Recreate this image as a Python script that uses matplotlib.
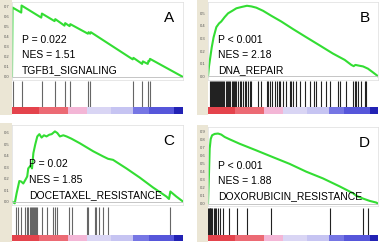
import numpy as np
import matplotlib
matplotlib.use('Agg')
import matplotlib.pyplot as plt
from matplotlib.patches import Rectangle

plt.rcParams['font.family'] = ['Liberation Sans', 'DejaVu Sans']

# ---- panel data ----
labels = ['A', 'B', 'C', 'D']
pvals = ['P = 0.022', 'P < 0.001', 'P = 0.02', 'P < 0.001']
nes = ['NES = 1.51', 'NES = 2.18', 'NES = 1.85', 'NES = 1.88']
sets = ['TGFB1_SIGNALING', 'DNA_REPAIR', 'DOCETAXEL_RESISTANCE', 'DOXORUBICIN_RESISTANCE']

a_x = [0, 0.003, 0.054, 0.056, 0.171, 0.175, 0.249, 0.253, 0.307, 0.311, 0.337, 0.341,
       0.444, 0.448, 0.457, 0.461, 0.706, 0.710, 0.761, 0.765, 0.794, 0.798, 0.803, 0.807, 1.0]
a_es = [0.0, 0.69, 0.64, 0.71, 0.59, 0.63, 0.555, 0.575, 0.51, 0.535, 0.505, 0.525,
        0.43, 0.445, 0.43, 0.445, 0.175, 0.19, 0.13, 0.155, 0.13, 0.16, 0.155, 0.18, 0.0]
a_hits = [0.008, 0.056, 0.173, 0.251, 0.309, 0.339, 0.446, 0.459, 0.708, 0.763, 0.796, 0.805]

b_x = [0, 0.006, 0.014, 0.022, 0.033, 0.049, 0.065, 0.078, 0.098, 0.118, 0.143, 0.167, 0.196,
       0.229, 0.255, 0.284, 0.324, 0.373, 0.431, 0.5, 0.578, 0.657, 0.735, 0.804, 0.843, 0.857,
       0.867, 0.892, 0.912, 0.941, 0.971, 1.0]
b_es = [0, 0.08, 0.155, 0.23, 0.31, 0.39, 0.42, 0.435, 0.47, 0.5, 0.52, 0.54, 0.55, 0.56,
        0.555, 0.545, 0.52, 0.48, 0.435, 0.375, 0.31, 0.245, 0.18, 0.13, 0.09, 0.08, 0.09,
        0.083, 0.078, 0.06, 0.03, 0.0]
b_hits = [0.010, 0.016, 0.022, 0.029, 0.033, 0.039, 0.045, 0.053, 0.059, 0.065, 0.073, 0.078,
          0.084, 0.088, 0.096, 0.104, 0.112, 0.120, 0.124, 0.131, 0.139, 0.147, 0.155, 0.161,
          0.167, 0.176, 0.186, 0.196, 0.206, 0.216, 0.225, 0.235, 0.245, 0.255, 0.294, 0.314,
          0.347, 0.355, 0.363, 0.378, 0.392, 0.406, 0.418, 0.425, 0.441, 0.461, 0.480, 0.490,
          0.500, 0.516, 0.539, 0.569, 0.598, 0.622, 0.637, 0.667, 0.696, 0.716, 0.765, 0.775,
          0.810, 0.853, 0.863, 0.873, 0.882, 0.902, 0.922, 0.931]

c_x = [0, 0.016, 0.027, 0.043, 0.054, 0.066, 0.082, 0.089, 0.095, 0.109, 0.117, 0.125, 0.136,
       0.148, 0.160, 0.173, 0.187, 0.202, 0.218, 0.232, 0.251, 0.265, 0.280, 0.300, 0.319,
       0.348, 0.397, 0.475, 0.533, 0.562, 0.591, 0.669, 0.747, 0.825, 0.903, 0.918, 0.926,
       0.961, 1.0]
c_es = [0, -0.015, 0.073, 0.18, 0.175, 0.158, 0.2, 0.22, 0.29, 0.315, 0.29, 0.424, 0.5, 0.57,
        0.59, 0.56, 0.58, 0.57, 0.585, 0.59, 0.614, 0.6, 0.57, 0.58, 0.57, 0.55, 0.51, 0.44,
        0.395, 0.374, 0.365, 0.29, 0.21, 0.123, 0.044, 0.023, 0.088, 0.044, 0.0]
c_hits = [0.023, 0.037, 0.051, 0.076, 0.086, 0.095, 0.105, 0.111, 0.117, 0.125, 0.130, 0.136,
          0.140, 0.148, 0.177, 0.202, 0.237, 0.251, 0.261, 0.335, 0.348, 0.436, 0.446, 0.484,
          0.494, 0.510, 0.533, 0.562, 0.922]

d_x = [0, 0.006, 0.010, 0.016, 0.024, 0.039, 0.059, 0.078, 0.098, 0.127, 0.186, 0.284, 0.382,
       0.480, 0.578, 0.676, 0.775, 0.853, 0.873, 0.912, 0.951, 0.990, 1.0]
d_es = [0, 0.39, 0.69, 0.81, 0.856, 0.873, 0.878, 0.865, 0.835, 0.806, 0.75, 0.667, 0.582,
        0.498, 0.40, 0.316, 0.215, 0.13, 0.097, 0.063, 0.034, 0.013, 0.0]
d_hits = [0.002, 0.006, 0.010, 0.014, 0.018, 0.022, 0.033, 0.041, 0.049, 0.057, 0.069, 0.088,
          0.124, 0.173, 0.229, 0.373, 0.716, 0.912, 0.941]

curves_x = [a_x, b_x, c_x, d_x]
curves_y = [a_es, b_es, c_es, d_es]
hits = [a_hits, b_hits, c_hits, d_hits]
yticks = [np.arange(0, 0.71, 0.1), np.arange(0, 0.51, 0.1),
          np.arange(0, 0.61, 0.1), np.arange(0, 0.91, 0.1)]
ylims = [(-0.03, 0.745), (-0.03, 0.59), (-0.03, 0.67), (-0.03, 0.96)]

# ranked list colour bar (red -> blue)
bar_edges = [0, 0.16, 0.33, 0.44, 0.58, 0.71, 0.80, 0.95, 1.0]
bar_cols = ['#e4434c', '#ec6a74', '#f3b6d6', '#d9d5f4', '#c6c4f2', '#7676e4', '#5656da', '#2222b4']

W, H = 381, 244
fig = plt.figure(figsize=(W / 100, H / 100), dpi=100)
fig.patch.set_facecolor('white')


def box(x0, y0, x1, y1):
    return [x0 / W, 1 - y1 / H, (x1 - x0) / W, (y1 - y0) / H]


# pixel layout of each panel
lay = [
    dict(s=0, l=12, r=183, top=2, bot=80, h0=81, h1=107, c1=114),
    dict(s=197, l=208, r=378, top=2, bot=80, h0=81, h1=107, c1=114),
    dict(s=0, l=12, r=183, top=125, bot=205, h0=207, h1=235, c1=241),
    dict(s=197, l=208, r=378, top=127, bot=206, h0=208, h1=235, c1=241),
]

for i in range(4):
    L = lay[i]
    # beige strip on the left (drawn under the axes)
    fig.patches.append(Rectangle((L['s'] / W, 1 - (L['c1'] + 1) / H), (L['l'] - L['s']) / W,
                                 (L['c1'] + 3 - L['top']) / H, transform=fig.transFigure,
                                 facecolor='#ebe6d5', edgecolor='none', zorder=-5))

    ax = fig.add_axes(box(L['l'], L['top'], L['r'], L['bot']))
    ax.plot(curves_x[i], curves_y[i], color='#33dd33', lw=1.5)
    ax.axhline(0, color='#bbbbbb', lw=0.6)
    ax.set_xlim(0, 1)
    ax.set_ylim(*ylims[i])
    ax.set_xticks([])
    ax.set_yticks(yticks[i])
    ax.set_yticklabels(['%.1f' % v for v in yticks[i]], fontsize=3, color='#555555')
    ax.tick_params(axis='y', length=0, pad=2)
    for sp in ax.spines.values():
        sp.set_color('#dddddd')
        sp.set_linewidth(0.5)
    tx = 0.1 if i == 2 else 0.06
    ax.text(tx, 0.47, pvals[i], transform=ax.transAxes, fontsize=7.5)
    ax.text(tx, 0.28, nes[i], transform=ax.transAxes, fontsize=7.5)
    ax.text(tx, 0.09, sets[i], transform=ax.transAxes, fontsize=7.5)
    ax.text(0.95, 0.8, labels[i], transform=ax.transAxes, fontsize=11, ha='right', va='center')

    # hit lines
    hx = fig.add_axes(box(L['l'], L['h0'], L['r'], L['h1']))
    hx.vlines(hits[i], 0, 1, color='#222222' if i in (1, 3) else '#666666', lw=0.8)
    hx.set_xlim(0, 1)
    hx.set_ylim(0, 1)
    hx.axis('off')

    # ranked list bar
    cx = fig.add_axes(box(L['l'], L['h1'], L['r'], L['c1']))
    for k in range(len(bar_cols)):
        cx.axvspan(bar_edges[k], bar_edges[k + 1], color=bar_cols[k], lw=0)
    cx.set_xlim(0, 1)
    cx.axis('off')

fig.savefig('out.png', dpi=100)
